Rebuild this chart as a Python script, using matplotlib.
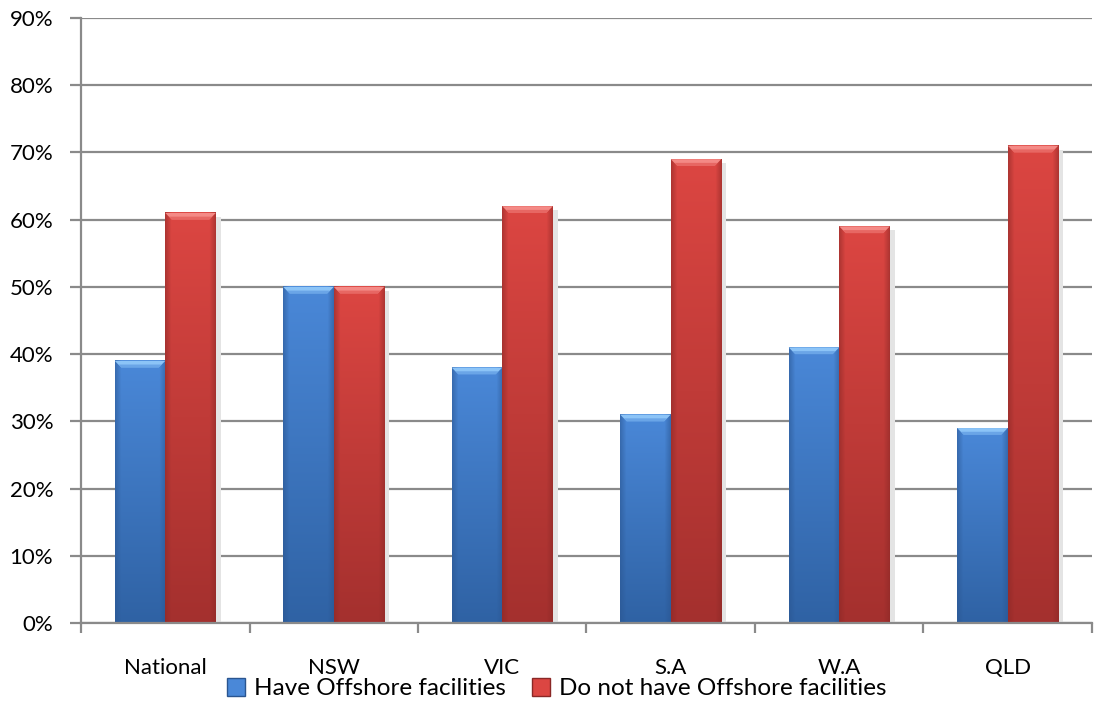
import numpy as np
import matplotlib
matplotlib.use("Agg")
import matplotlib.pyplot as plt
from matplotlib.colors import to_rgb
from matplotlib.patches import Polygon, Rectangle

categories = ["National", "NSW", "VIC", "S.A", "W.A", "QLD"]
have_offshore = [39, 50, 38, 31, 41, 29]
no_offshore = [61, 50, 62, 69, 59, 71]
series_names = ["Have Offshore facilities", "Do not have Offshore facilities"]
y_ticks = [0, 10, 20, 30, 40, 50, 60, 70, 80, 90]

plt.rcParams["font.family"] = ["Lato", "DejaVu Sans"]

fig = plt.figure(figsize=(10.98, 7.02), dpi=100)
ax = fig.add_axes([0.0738, 0.1125, 0.9207, 0.8619])

n = len(categories)
x = np.arange(n)
bw = 0.30

# colour schemes: (top, bottom, bevel, edge)
styles = [
    dict(top="#4a88d8", bot="#2f62a4", bevel="#8cc4f7", edge="#2a5590"),
    dict(top="#dc4642", bot="#a4302e", bevel="#f48a86", edge="#8a2826"),
]


def shaded_bar(rect, st, shadow=False):
    x0, w, h = rect.get_x(), rect.get_width(), rect.get_height()
    if shadow:
        ax.add_patch(Rectangle((x0 + w, 0), 0.03, h - 0.6, facecolor="#e4e4e4",
                               edgecolor="none", zorder=2))
    ny, nx = 200, 60
    top, bot, edge = map(np.array, (to_rgb(st["top"]), to_rgb(st["bot"]), to_rgb(st["edge"])))
    t = np.linspace(0, 1, ny)[:, None, None]          # 0 at top -> 1 at bottom
    col = top * (1 - t) + bot * t
    img = np.repeat(col, nx, axis=1)
    u = np.linspace(0, 1, nx)
    edge_w = np.clip(1 - np.minimum(u, 1 - u) / 0.12, 0, 1)[None, :, None] * 0.55
    img = img * (1 - edge_w) + edge[None, None, :] * edge_w
    ax.imshow(img, extent=(x0, x0 + w, 0, h), aspect="auto", zorder=3,
              interpolation="bilinear", origin="upper")
    # bevelled top cap
    cap = 1.0
    inset = w * 0.13
    ax.add_patch(Polygon([(x0, h), (x0 + w, h), (x0 + w - inset, h - cap),
                          (x0 + inset, h - cap)], closed=True,
                         facecolor=st["bevel"], edgecolor="none", zorder=4))
    ax.add_patch(Polygon([(x0 + inset, h - cap), (x0 + w - inset, h - cap),
                          (x0 + w - inset * 0.6, h - cap * 0.55),
                          (x0 + inset * 0.6, h - cap * 0.55)], closed=True,
                         facecolor=st["top"], edgecolor="none", alpha=0.5, zorder=4))


bars_a = ax.bar(x - bw / 2, have_offshore, bw, color=styles[0]["top"], zorder=1)
bars_b = ax.bar(x + bw / 2, no_offshore, bw, color=styles[1]["top"], zorder=1)
for r in bars_a:
    shaded_bar(r, styles[0])
for r in bars_b:
    shaded_bar(r, styles[1], shadow=True)

ax.set_xlim(-0.5, n - 0.5)
ax.set_ylim(0, 90)
ax.set_yticks(y_ticks)
ax.set_yticklabels([f"{v}%" for v in y_ticks], fontsize=16)
ax.yaxis.grid(True, color="#8a8a8a", linewidth=1.6, zorder=0)
ax.set_axisbelow(True)

for s in ("top", "right"):
    ax.spines[s].set_visible(False)
for s in ("left", "bottom"):
    ax.spines[s].set_color("#8a8a8a")
    ax.spines[s].set_linewidth(1.6)
    ax.spines[s].set_zorder(5)

ax.tick_params(axis="y", length=8, width=1.6, color="#8a8a8a", pad=12)
ax.set_xticks(np.arange(n + 1) - 0.5)
ax.set_xticklabels([])
ax.tick_params(axis="x", length=7, width=1.6, color="#8a8a8a")
ax.set_xticks(x, minor=True)
ax.set_xticklabels(categories, minor=True, fontsize=16)
ax.tick_params(axis="x", which="minor", length=0, pad=25)

handles = [Rectangle((0, 0), 1, 1, facecolor=st["top"], edgecolor=st["edge"]) for st in styles]
fig.legend(handles, series_names, loc="center", bbox_to_anchor=(0.507, 0.019),
           ncol=2, frameon=False, fontsize=17.5, handlelength=0.75, handleheight=0.75,
           handletextpad=0.35, columnspacing=1.1, borderaxespad=0)

fig.savefig("out.png", dpi=100)
